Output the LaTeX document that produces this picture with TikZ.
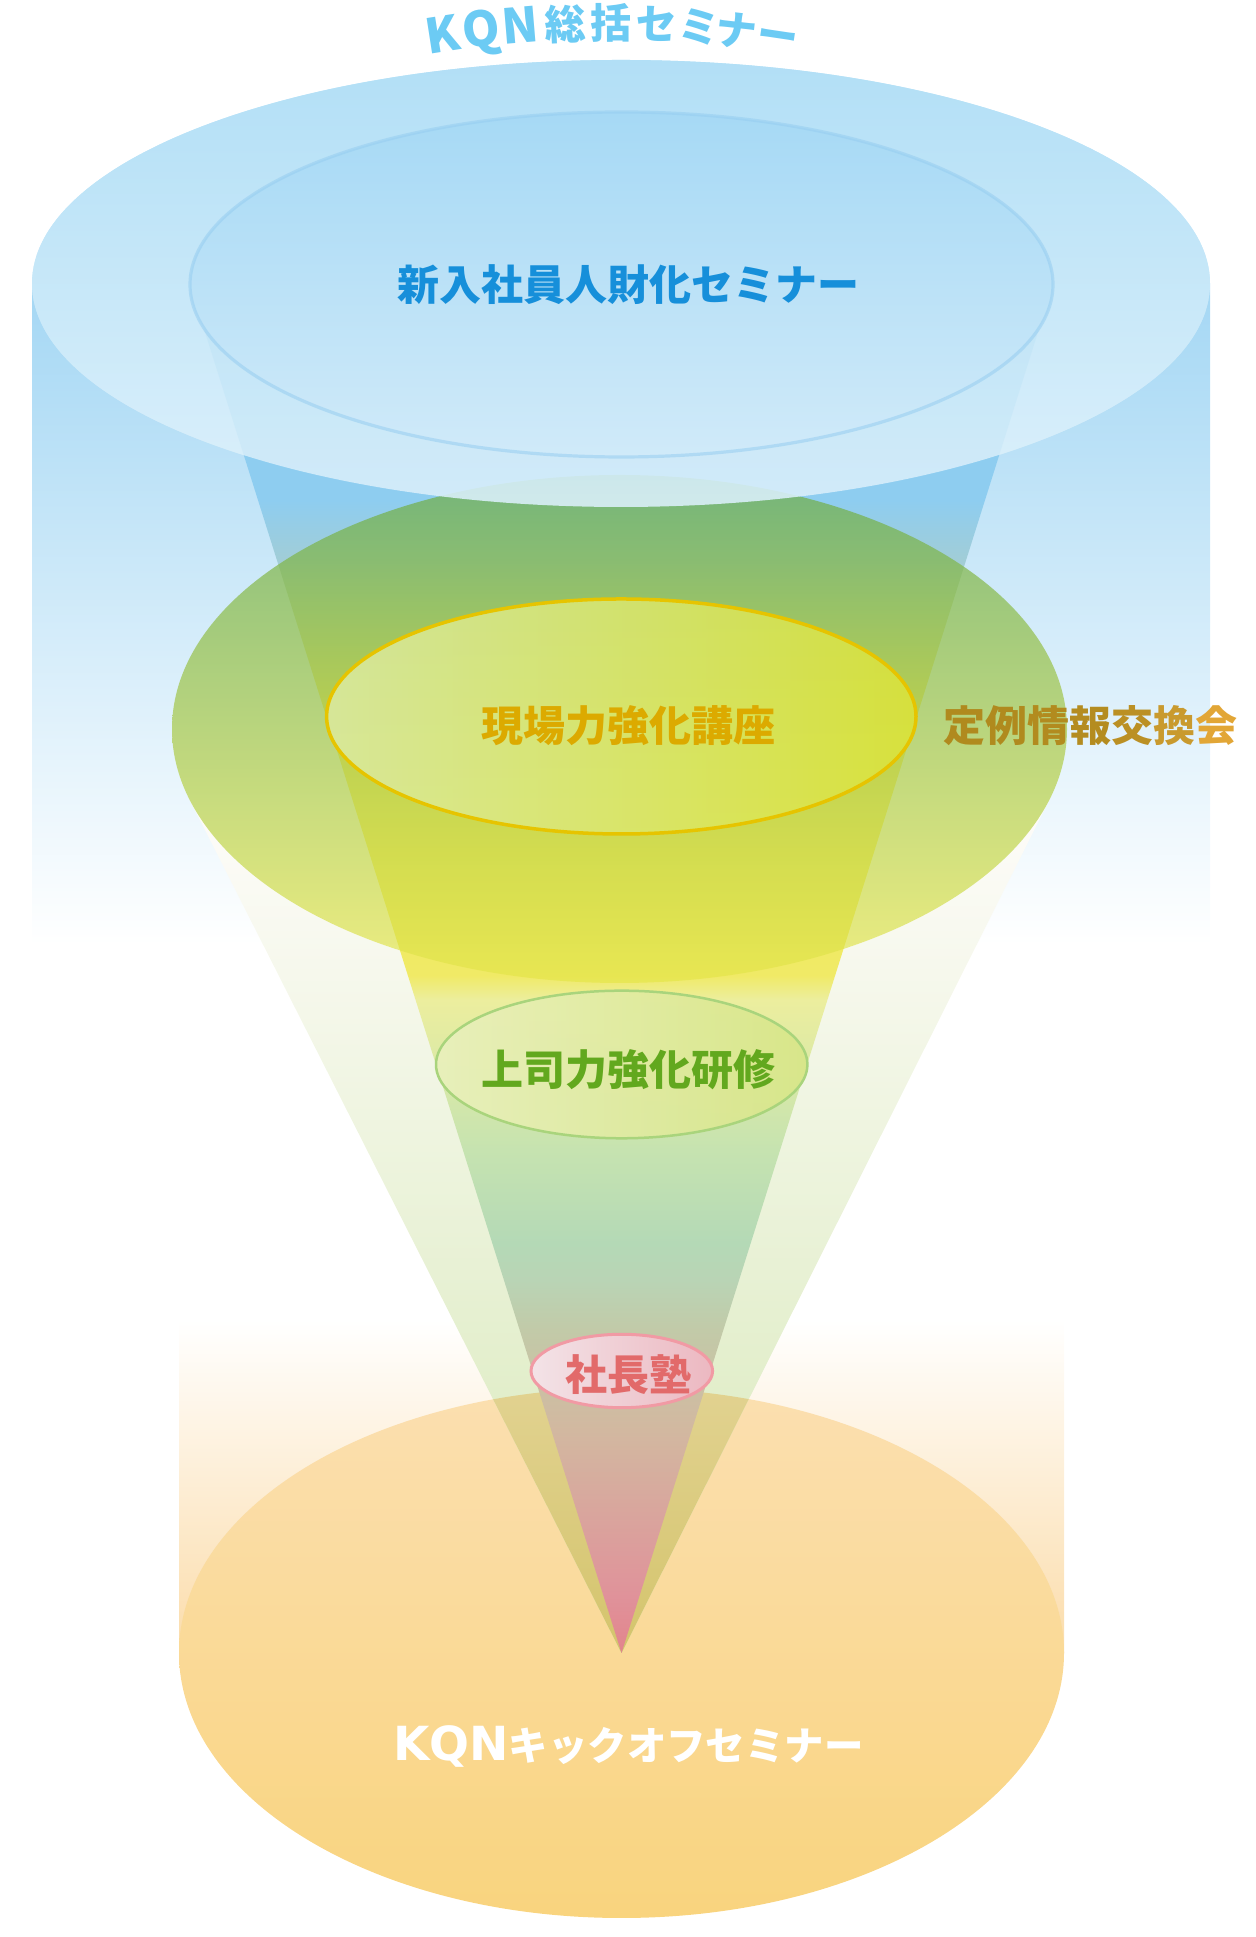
\documentclass[tikz,border=0pt]{standalone}
\usepackage{fontspec}
\newfontfamily\jp{Noto Sans CJK JP}
\newfontfamily\dv{DejaVu Sans}
\definecolor{cbs}{HTML}{A4D7F4}
\definecolor{ctopA}{HTML}{B2DFF6}
\definecolor{ctopB}{HTML}{DCF0FB}
\definecolor{cinA}{HTML}{A6D9F5}
\definecolor{cinB}{HTML}{D0EAF9}
\definecolor{cinS}{HTML}{96CDF0}
\definecolor{corS}{HTML}{FBDCAA}
\definecolor{corA}{HTML}{FBDFB0}
\definecolor{corB}{HTML}{F9D47E}
\definecolor{cwA}{HTML}{FEFCFA}
\definecolor{cwB}{HTML}{D6E8B6}
\definecolor{cwoA}{HTML}{FFF1E0}
\definecolor{cwoB}{HTML}{D4C46C}
\definecolor{cgA}{HTML}{6CAC46}
\definecolor{cgM}{HTML}{BFD65A}
\definecolor{cgB}{HTML}{E6E64A}
\definecolor{cyL}{HTML}{DCEBA4}
\definecolor{cyM}{HTML}{D8E680}
\definecolor{cyR}{HTML}{DCE43A}
\definecolor{cyS}{HTML}{E6C400}
\definecolor{cjL}{HTML}{E9F0BC}
\definecolor{cjR}{HTML}{D8E688}
\definecolor{cjS}{HTML}{A9D47C}
\definecolor{cpL}{HTML}{F3E3E7}
\definecolor{cpR}{HTML}{ECB8C1}
\definecolor{cpS}{HTML}{F19AA4}
\definecolor{ctitle}{HTML}{6CCBF4}
\definecolor{cnew}{HTML}{168FDA}
\definecolor{cgen}{HTML}{DCAA00}
\definecolor{cjo}{HTML}{62A81E}
\definecolor{csha}{HTML}{E26A6A}
\definecolor{ta}{HTML}{B08A1E}
\definecolor{tb}{HTML}{B28B1F}
\definecolor{tc}{HTML}{B48C20}
\definecolor{td}{HTML}{BB9024}
\definecolor{te}{HTML}{C99A2E}
\definecolor{tf}{HTML}{E2A636}
\definecolor{k1}{HTML}{E2848C}
\definecolor{k2}{HTML}{E0929A}
\definecolor{k3}{HTML}{D2B8A0}
\definecolor{k4}{HTML}{C2CAA8}
\definecolor{k5}{HTML}{B9D4B5}
\definecolor{k6}{HTML}{B4D9B6}
\definecolor{k7}{HTML}{C6E3B0}
\definecolor{k8}{HTML}{ECEE9E}
\definecolor{k9}{HTML}{F0EA66}
\definecolor{k10}{HTML}{F0EA60}
\definecolor{k11}{HTML}{E0E070}
\definecolor{k12}{HTML}{A1CDD7}
\definecolor{k13}{HTML}{8ECDF0}
\pgfdeclareverticalshading{conesh}{100bp}{color(0bp)=(k1); color(25bp)=(k1); color(27.05bp)=(k2); color(33.15bp)=(k3); color(36.8bp)=(k4); color(38.63bp)=(k5); color(39.98bp)=(k6); color(43.38bp)=(k7); color(48.86bp)=(k8); color(49.77bp)=(k9); color(54.34bp)=(k10); color(59.82bp)=(k11); color(64.93bp)=(k12); color(67.13bp)=(k13); color(100bp)=(k13)}
\begin{document}
\begin{tikzpicture}[x=0.5pt,y=0.5pt,
  lbl/.style={font=\jp\bfseries\fontsize{21pt}{21pt}\selectfont, anchor=base, inner sep=0pt},
  titlech/.style={text=ctitle, inner sep=0pt, text height=0.76em, text depth=0pt, anchor=center},
  ]
\useasboundingbox (0,0) rectangle (1255,1937);
% blue cylinder side
\shade[top color=cbs, bottom color=white] (32,992) rectangle (1210,1653.5);
% backing of top ellipse
\shade[top color=ctopA, bottom color=ctopB] (621,1653.5) ellipse [x radius=589, y radius=223.5];
% orange cylinder side
\shade[top color=white, bottom color=corS] (179,284) rectangle (1064,617);
% orange ellipse
\shade[top color=corA, bottom color=corB] (621.5,284) ellipse [x radius=442.5, y radius=265];
% wide cone
\shade[top color=cwA, bottom color=cwB] (189.3,1138.1) arc[start angle=195.96, end angle=344.04, x radius=447.5, y radius=254] -- (621.5,284) -- cycle;
\begin{scope}
\clip (621.5,284) ellipse [x radius=442.5, y radius=265];
\shade[top color=cwoA, bottom color=cwoB] (189.3,1138.1) arc[start angle=195.96, end angle=344.04, x radius=447.5, y radius=254] -- (621.5,284) -- cycle;
\end{scope}
% narrow cone
\shade[shading=conesh] (190,1652.5) arc[start angle=180, end angle=360, x radius=431.5, y radius=172.5] -- (621.5,284) -- cycle;
% green ellipse
\shade[top color=cgA, middle color=cgM, bottom color=cgB, opacity=0.7] (619.5,1208) ellipse [x radius=447.5, y radius=254];
% top ellipse
\shade[top color=ctopA, bottom color=ctopB, opacity=0.88] (621,1653.5) ellipse [x radius=589, y radius=223.5];
% inner ellipse
\shade[top color=cinA, bottom color=cinB] (621.5,1652.5) ellipse [x radius=431.5, y radius=172.5];
\draw[cinS, draw opacity=0.55, line width=1.6pt] (621.5,1652.5) ellipse [x radius=431.5, y radius=172.5];
% yellow ellipse
\shade[left color=cyL, middle color=cyM, right color=cyR, opacity=0.85] (621.3,1220.5) ellipse [x radius=294.7, y radius=117.5];
\draw[cyS, line width=1.75pt] (621.3,1220.5) ellipse [x radius=294.7, y radius=117.5];
% joshi ellipse
\shade[left color=cjL, right color=cjR, opacity=0.92] (621.7,872.5) ellipse [x radius=185.7, y radius=73.8];
\draw[cjS, line width=1.25pt] (621.7,872.5) ellipse [x radius=185.7, y radius=73.8];
% shacho ellipse
\shade[left color=cpL, right color=cpR] (621.8,566) ellipse [x radius=90.8, y radius=36.7];
\draw[cpS, line width=1.5pt] (621.8,566) ellipse [x radius=90.8, y radius=36.7];
% title
\foreach \ch/\a [count=\i] in {K/-8.8,Q/-6.8,N/-4.8}
  \node[titlech, font=\jp\bfseries\fontsize{24pt}{24pt}\selectfont, rotate=-\a] (tl\i) at ({614+1110*sin(\a)},{796+1110*cos(\a)}) {\ch};
\foreach \ch/\a [count=\i] in {総/-2.5,括/-0.15,セ/2.2,ミ/4.35,ナ/6.3,ー/8.45}
  \node[titlech, font=\jp\bfseries\fontsize{20.5pt}{20.5pt}\selectfont, rotate=-\a] (tc\i) at ({614+1110*sin(\a)},{796+1110*cos(\a)}) {\ch};
% labels
\node[lbl, text=cnew] (shinnyu) at (628,1636) {新入社員人財化セミナー};
\node[lbl, text=cgen] (genba) at (628,1195) {現場力強化講座};
\node[lbl] (teirei) at (1090,1195) {\textcolor{ta}{定}\textcolor{ta}{例}\textcolor{tb}{情}\textcolor{tc}{報}\textcolor{td}{交}\textcolor{te}{換}\textcolor{tf}{会}};
\node[lbl, text=cjo] (joshi) at (628.8,851) {上司力強化研修};
\node[lbl, text=csha] (shacho) at (628.7,546) {社長塾};
\node[lbl, text=white] (kickoff) at (628.3,176) {{\dv\bfseries\fontsize{23.5pt}{23.5pt}\selectfont KQN}{\fontsize{19.7pt}{19.7pt}\selectfont キックオフセミナー}};
\end{tikzpicture}
\end{document}
